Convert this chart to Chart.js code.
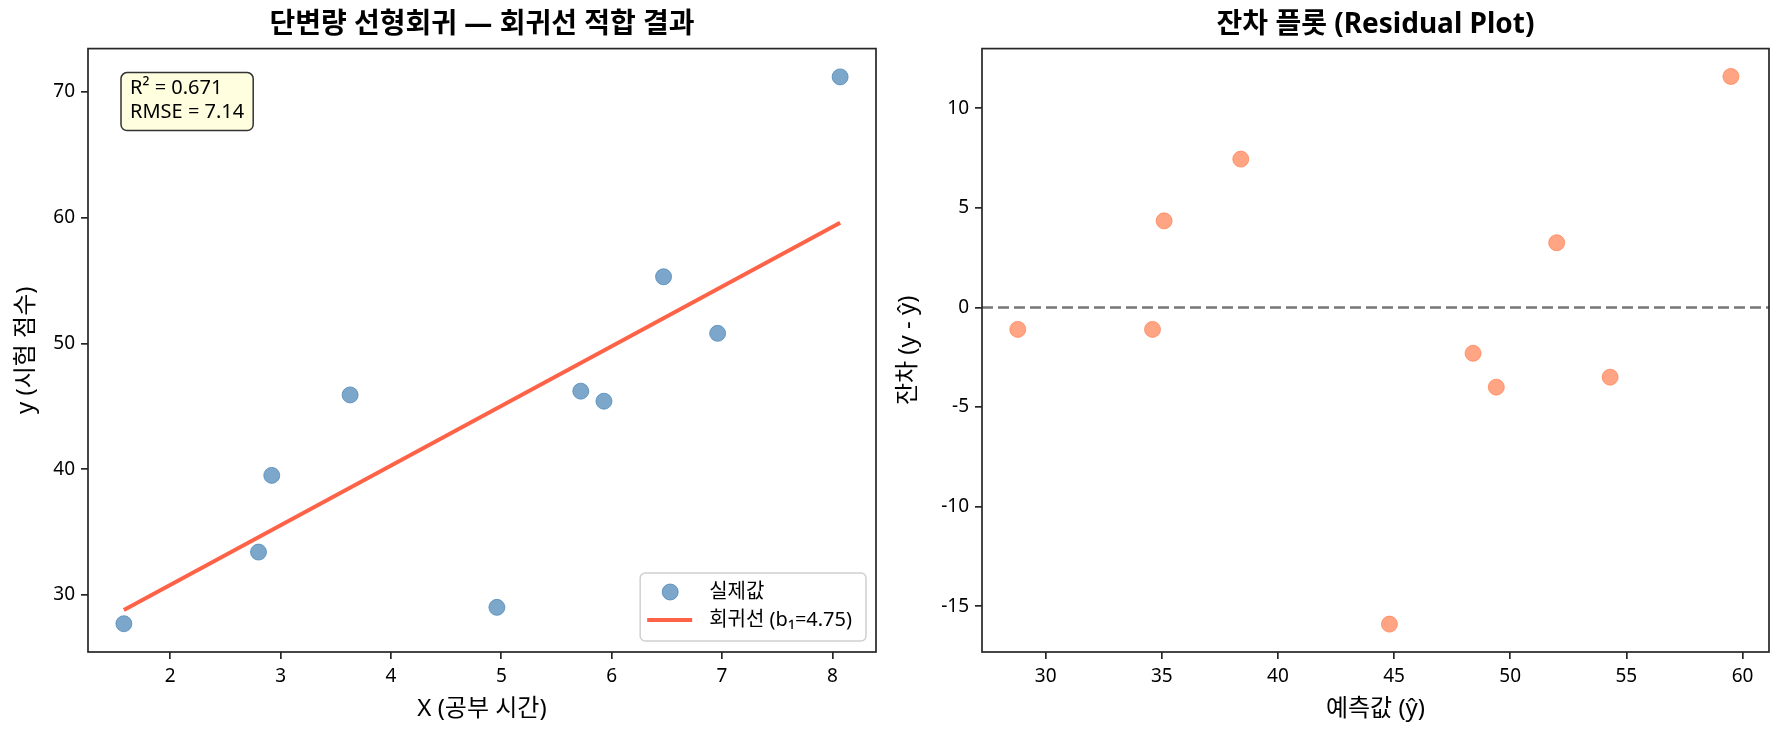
<!DOCTYPE html>
<html>
<head>
<meta charset="utf-8">
<script src="https://cdn.jsdelivr.net/npm/chart.js@4.4.1/dist/chart.umd.min.js"></script>
<style>
  html, body { margin: 0; padding: 0; background: #fff; }
  #wrap { position: relative; width: 1784px; height: 736px; }
  canvas { position: absolute; top: 0; }
  #fitChart { left: 0; }
  #residChart { left: 892px; }
</style>
</head>
<body>
<div id="wrap">
  <canvas id="fitChart" width="892" height="736"></canvas>
  <canvas id="residChart" width="892" height="736"></canvas>
</div>
<script>
// left panel: data points and fitted line
const studyHours = [1.58, 2.80, 2.92, 3.63, 4.96, 5.72, 5.93, 6.47, 6.96, 8.07]
const examScores = [27.7, 33.4, 39.5, 45.9, 29.0, 46.2, 45.4, 55.3, 50.8, 71.2]
const lineX = [1.58, 8.07]
const lineY = [28.8, 59.6]
const fitXTicks = [2, 3, 4, 5, 6, 7, 8]
const fitYTicks = [30, 40, 50, 60, 70]
// right panel: residuals
const predicted = [28.8, 34.6, 35.1, 38.4, 44.8, 48.4, 49.4, 52.0, 54.3, 59.5]
const residuals = [-1.1, -1.1, 4.35, 7.45, -15.9, -2.3, -4.0, 3.25, -3.5, 11.6]
const residXTicks = [30, 35, 40, 45, 50, 55, 60]
const residYTicks = [-15, -10, -5, 0, 5, 10]
const statsLines = ["R² = 0.671", "RMSE = 7.14"]
const legendLabels = ["실제값", "회귀선 (b₁=4.75)"]

const FONT = "'Noto Sans', 'Noto Sans CJK KR', sans-serif"
const AXIS_COLOR = "#262626"
const BLUE = "rgba(70,130,180,0.7)"
const CORAL = "rgba(255,127,80,0.7)"
const RED = "#FF6347"

Chart.defaults.font.family = FONT
Chart.defaults.color = "#000"

const framePlugin = {
  id: "frame",
  afterDraw(chart) {
    const { ctx, chartArea: a } = chart
    ctx.save()
    ctx.strokeStyle = AXIS_COLOR
    ctx.lineWidth = 1.7
    ctx.strokeRect(a.left, a.top, a.right - a.left, a.bottom - a.top)
    ctx.restore()
  },
}

const fitOverlayPlugin = {
  id: "fitOverlay",
  afterDraw(chart) {
    const { ctx, chartArea: a } = chart
    ctx.save()
    ctx.font = `20px ${FONT}`
    ctx.textBaseline = "middle"
    ctx.textAlign = "left"

    // stats text box
    const statsW = Math.max(...statsLines.map((t) => ctx.measureText(t).width))
    const sx = a.left + 33
    const sy = a.top + 24
    ctx.beginPath()
    ctx.roundRect(sx, sy, statsW + 18, 58, 6)
    ctx.fillStyle = "#FFFFE0"
    ctx.fill()
    ctx.strokeStyle = "#333"
    ctx.lineWidth = 1.5
    ctx.stroke()
    ctx.fillStyle = "#000"
    statsLines.forEach((t, i) => ctx.fillText(t, sx + 9, sy + 16 + i * 24))

    // legend
    const legW = Math.max(...legendLabels.map((t) => ctx.measureText(t).width))
    const lw = 69 + legW + 14
    const lh = 68
    const lx = a.right - 10 - lw
    const ly = a.bottom - 11 - lh
    ctx.beginPath()
    ctx.roundRect(lx, ly, lw, lh, 5)
    ctx.fillStyle = "rgba(255,255,255,0.8)"
    ctx.fill()
    ctx.strokeStyle = "#d0d0d0"
    ctx.lineWidth = 1.5
    ctx.stroke()

    ctx.beginPath()
    ctx.arc(lx + 30, ly + 19, 8, 0, Math.PI * 2)
    ctx.fillStyle = BLUE
    ctx.fill()
    ctx.strokeStyle = BLUE
    ctx.lineWidth = 1
    ctx.stroke()

    ctx.beginPath()
    ctx.moveTo(lx + 7, ly + 47)
    ctx.lineTo(lx + 52, ly + 47)
    ctx.strokeStyle = RED
    ctx.lineWidth = 4
    ctx.stroke()

    ctx.fillStyle = "#000"
    legendLabels.forEach((t, i) => ctx.fillText(t, lx + 69, ly + 19 + i * 28))
    ctx.restore()
  },
}

function axis(ticks, min, max, title, isY, yWidth, titlePad) {
  return {
    type: "linear",
    min: min,
    max: max,
    afterBuildTicks: (scale) => {
      scale.ticks = ticks.map((v) => ({ value: v }))
    },
    afterFit: (scale) => {
      if (isY) scale.width = yWidth
      else scale.height = 84
    },
    grid: {
      display: true,
      drawOnChartArea: false,
      drawTicks: true,
      tickLength: 7,
      color: AXIS_COLOR,
      lineWidth: 1.7,
    },
    border: { display: false },
    ticks: {
      color: "#000",
      font: { family: FONT, size: 19 },
      padding: 6,
      autoSkip: false,
      maxRotation: 0,
      callback: (v) => String(v),
    },
    title: {
      display: true,
      text: title,
      color: "#000",
      font: { family: FONT, size: 24 },
      padding: isY ? { top: titlePad, bottom: 0 } : { top: 0, bottom: titlePad },
    },
  }
}

function titleOpts(text) {
  return {
    display: true,
    text: text,
    fullSize: false,
    color: "#000",
    font: { family: FONT, size: 28, weight: "bold" },
    padding: { top: 8, bottom: 7 },
  }
}

new Chart(document.getElementById("fitChart"), {
  type: "scatter",
  data: {
    datasets: [
      {
        label: legendLabels[0],
        data: studyHours.map((x, i) => ({ x: x, y: examScores[i] })),
        backgroundColor: BLUE,
        borderColor: BLUE,
        borderWidth: 1,
        pointRadius: 8,
        order: 2,
      },
      {
        label: legendLabels[1],
        data: lineX.map((x, i) => ({ x: x, y: lineY[i] })),
        showLine: true,
        borderColor: RED,
        borderWidth: 4,
        pointRadius: 0,
        order: 1,
      },
    ],
  },
  options: {
    responsive: false,
    animation: false,
    layout: { padding: { left: 0, right: 16, top: 0, bottom: 0 } },
    plugins: {
      legend: { display: false },
      tooltip: { enabled: false },
      title: titleOpts("단변량 선형회귀 — 회귀선 적합 결과"),
    },
    scales: {
      x: axis(fitXTicks, 1.255, 8.395, "X (공부 시간)", false, 0, 12),
      y: axis(fitYTicks, 25.45, 73.45, "y (시험 점수)", true, 88, 12),
    },
  },
  plugins: [framePlugin, fitOverlayPlugin],
})

const residXMin = 27.26
const residXMax = 61.14

new Chart(document.getElementById("residChart"), {
  type: "scatter",
  data: {
    datasets: [
      {
        label: "zero",
        data: [
          { x: residXMin, y: 0 },
          { x: residXMax, y: 0 },
        ],
        showLine: true,
        borderColor: "#777",
        borderWidth: 2.6,
        borderDash: [11, 5],
        pointRadius: 0,
        order: 2,
      },
      {
        label: "residuals",
        data: predicted.map((x, i) => ({ x: x, y: residuals[i] })),
        backgroundColor: CORAL,
        borderColor: CORAL,
        borderWidth: 1,
        pointRadius: 8,
        order: 1,
      },
    ],
  },
  options: {
    responsive: false,
    animation: false,
    layout: { padding: { left: 0, right: 15, top: 0, bottom: 0 } },
    plugins: {
      legend: { display: false },
      tooltip: { enabled: false },
      title: titleOpts("잔차 플롯 (Residual Plot)"),
    },
    scales: {
      x: axis(residXTicks, residXMin, residXMax, "예측값 (ŷ)", false, 0, 12),
      y: axis(residYTicks, -17.3, 13.0, "잔차 (y - ŷ)", true, 90, 2),
    },
  },
  plugins: [framePlugin],
})
</script>
</body>
</html>
